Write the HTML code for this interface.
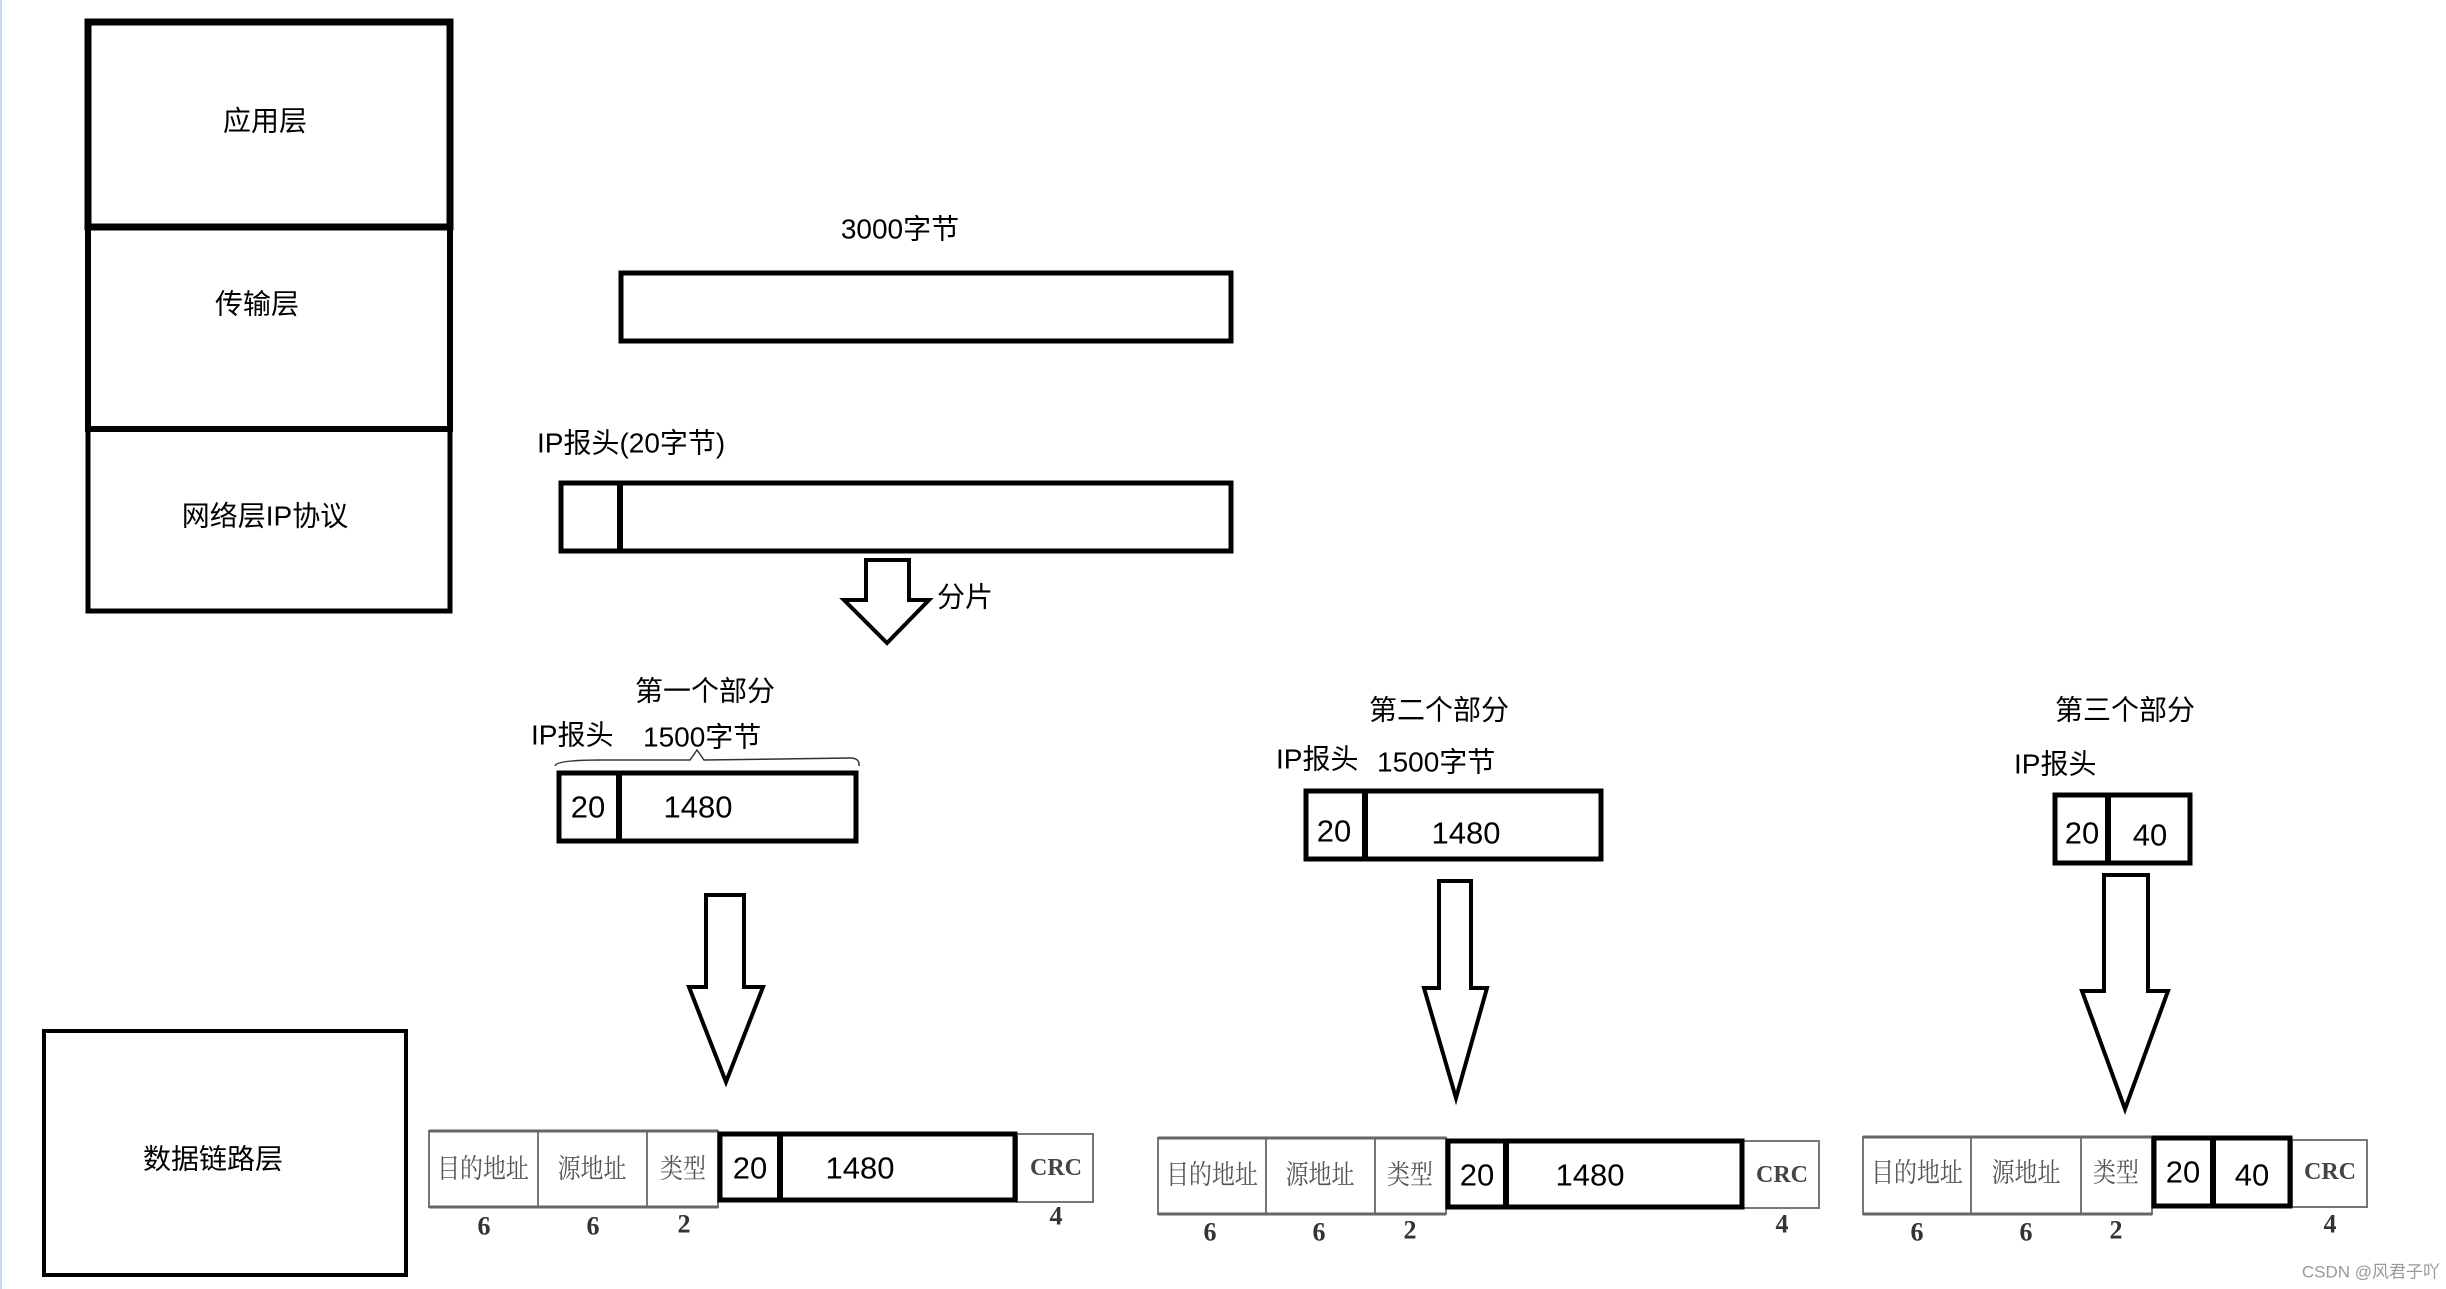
<!DOCTYPE html>
<html><head><meta charset="utf-8"><style>
html,body{margin:0;padding:0;background:#fff;}
body{width:2446px;height:1289px;overflow:hidden;position:relative;}
svg{position:absolute;left:0;top:0;}
.t{font-family:"Liberation Sans","Noto Sans CJK SC",sans-serif;font-size:28px;fill:#000;}
.n{font-family:"Liberation Sans","Noto Sans CJK SC",sans-serif;font-size:31px;fill:#000;}
.g{font-family:"Liberation Serif","Noto Serif CJK SC",serif;font-size:27px;fill:#555;}
.d{font-family:"Liberation Serif",serif;font-size:26px;font-weight:bold;fill:#333;}
.c{font-family:"Liberation Serif",serif;font-size:24px;font-weight:bold;fill:#444;}
</style></head><body>
<svg width="2446" height="1289" viewBox="0 0 2446 1289" xmlns="http://www.w3.org/2000/svg">
<rect x="0" y="0" width="2" height="1289" fill="#c9d9ef"/>
<!-- layer stack -->
<g fill="none" stroke="#000">
<rect x="88" y="22" width="362" height="205" stroke-width="7"/>
<rect x="88" y="227" width="362" height="202" stroke-width="6"/>
<rect x="88" y="429" width="362" height="182" stroke-width="5"/>
<rect x="44" y="1031" width="362" height="244" stroke-width="4"/>
</g>
<text class="t" x="265" y="121" text-anchor="middle" dominant-baseline="central">应用层</text>
<text class="t" x="257" y="304" text-anchor="middle" dominant-baseline="central">传输层</text>
<text class="t" x="265" y="516" text-anchor="middle" dominant-baseline="central">网络层IP协议</text>
<text class="t" x="213" y="1159" text-anchor="middle" dominant-baseline="central">数据链路层</text>

<!-- top bars -->
<text class="t" x="900" y="229" text-anchor="middle" dominant-baseline="central">3000字节</text>
<rect x="621" y="273" width="610" height="68" fill="none" stroke="#000" stroke-width="5"/>
<text class="t" x="537" y="443" dominant-baseline="central">IP报头(20字节)</text>
<rect x="561" y="483" width="670" height="68" fill="none" stroke="#000" stroke-width="5"/>
<line x1="620" y1="483" x2="620" y2="551" stroke="#000" stroke-width="6"/>
<polygon points="866,560 909,560 909,600 929,600 887,643 844,600 866,600" fill="#fff" stroke="#000" stroke-width="4"/>
<text class="t" x="937" y="597" dominant-baseline="central">分片</text>

<!-- part 1 -->
<text class="t" x="705" y="691" text-anchor="middle" dominant-baseline="central">第一个部分</text>
<text class="t" x="531" y="735" dominant-baseline="central">IP报头</text>
<text class="t" x="643" y="737" dominant-baseline="central">1500字节</text>
<path d="M555,766 Q556,760 600,760 L690,760 L697,750 L704,760 L850,758 Q860,758 859,766" fill="none" stroke="#333" stroke-width="1.5"/>
<rect x="559" y="773" width="297" height="68" fill="none" stroke="#000" stroke-width="5"/>
<line x1="619" y1="773" x2="619" y2="841" stroke="#000" stroke-width="6"/>
<text class="n" x="588" y="807" text-anchor="middle" dominant-baseline="central">20</text>
<text class="n" x="698" y="807" text-anchor="middle" dominant-baseline="central">1480</text>
<polygon points="706,895 744,895 744,987 763,987 726,1082 689,987 706,987" fill="#fff" stroke="#000" stroke-width="4"/>

<!-- part 2 -->
<text class="t" x="1439" y="710" text-anchor="middle" dominant-baseline="central">第二个部分</text>
<text class="t" x="1276" y="759" dominant-baseline="central">IP报头</text>
<text class="t" x="1377" y="762" dominant-baseline="central">1500字节</text>
<rect x="1306" y="791" width="295" height="68" fill="none" stroke="#000" stroke-width="5"/>
<line x1="1365" y1="791" x2="1365" y2="859" stroke="#000" stroke-width="6"/>
<text class="n" x="1334" y="831" text-anchor="middle" dominant-baseline="central">20</text>
<text class="n" x="1466" y="833" text-anchor="middle" dominant-baseline="central">1480</text>
<polygon points="1439,881 1471,881 1471,988 1487,988 1456,1098 1424,988 1439,988" fill="#fff" stroke="#000" stroke-width="4"/>

<!-- part 3 -->
<text class="t" x="2125" y="710" text-anchor="middle" dominant-baseline="central">第三个部分</text>
<text class="t" x="2014" y="764" dominant-baseline="central">IP报头</text>
<rect x="2055" y="795" width="135" height="68" fill="none" stroke="#000" stroke-width="5"/>
<line x1="2108" y1="795" x2="2108" y2="863" stroke="#000" stroke-width="6"/>
<text class="n" x="2082" y="833" text-anchor="middle" dominant-baseline="central">20</text>
<text class="n" x="2150" y="835" text-anchor="middle" dominant-baseline="central">40</text>
<polygon points="2104,875 2148,875 2148,991 2168,991 2125,1109 2082,991 2104,991" fill="#fff" stroke="#000" stroke-width="4"/>

<!-- frame 1 -->
<g fill="none" stroke="#777" stroke-width="2">
<rect x="429" y="1131" width="289" height="76"/>
<line x1="538" y1="1131" x2="538" y2="1207"/><line x1="647" y1="1131" x2="647" y2="1207"/>
<rect x="1017" y="1134" width="76" height="68"/>
</g>
<line x1="429" y1="1131" x2="718" y2="1131" stroke="#666" stroke-width="3"/>
<line x1="429" y1="1207" x2="718" y2="1207" stroke="#666" stroke-width="3"/>
<g class="g" text-anchor="middle" dominant-baseline="central">
<text x="483" y="1170" transform="translate(483 0) scale(0.85 1) translate(-483 0)">目的地址</text>
<text x="592" y="1170" transform="translate(592 0) scale(0.85 1) translate(-592 0)">源地址</text>
<text x="683" y="1170" transform="translate(683 0) scale(0.85 1) translate(-683 0)">类型</text>
</g>
<rect x="720" y="1134" width="295" height="66" fill="none" stroke="#000" stroke-width="5"/>
<line x1="780" y1="1134" x2="780" y2="1200" stroke="#000" stroke-width="6"/>
<text class="n" x="750" y="1168" text-anchor="middle" dominant-baseline="central">20</text>
<text class="n" x="860" y="1168" text-anchor="middle" dominant-baseline="central">1480</text>
<text class="c" x="1056" y="1168" text-anchor="middle" dominant-baseline="central">CRC</text>
<g class="d" text-anchor="middle" dominant-baseline="central">
<text x="484" y="1226">6</text><text x="593" y="1226">6</text><text x="684" y="1224">2</text><text x="1056" y="1216">4</text>
</g>

<!-- frame 2 -->
<g fill="none" stroke="#777" stroke-width="2">
<rect x="1158" y="1138" width="288" height="76"/>
<line x1="1266" y1="1138" x2="1266" y2="1214"/><line x1="1375" y1="1138" x2="1375" y2="1214"/>
<rect x="1743" y="1141" width="76" height="67"/>
</g>
<line x1="1158" y1="1138" x2="1446" y2="1138" stroke="#666" stroke-width="3"/>
<line x1="1158" y1="1214" x2="1446" y2="1214" stroke="#666" stroke-width="3"/>
<g class="g" text-anchor="middle" dominant-baseline="central">
<text x="1212" y="1176" transform="translate(1212 0) scale(0.85 1) translate(-1212 0)">目的地址</text>
<text x="1320" y="1176" transform="translate(1320 0) scale(0.85 1) translate(-1320 0)">源地址</text>
<text x="1410" y="1176" transform="translate(1410 0) scale(0.85 1) translate(-1410 0)">类型</text>
</g>
<rect x="1448" y="1141" width="294" height="66" fill="none" stroke="#000" stroke-width="5"/>
<line x1="1506" y1="1141" x2="1506" y2="1207" stroke="#000" stroke-width="6"/>
<text class="n" x="1477" y="1175" text-anchor="middle" dominant-baseline="central">20</text>
<text class="n" x="1590" y="1175" text-anchor="middle" dominant-baseline="central">1480</text>
<text class="c" x="1782" y="1175" text-anchor="middle" dominant-baseline="central">CRC</text>
<g class="d" text-anchor="middle" dominant-baseline="central">
<text x="1210" y="1232">6</text><text x="1319" y="1232">6</text><text x="1410" y="1230">2</text><text x="1782" y="1224">4</text>
</g>

<!-- frame 3 -->
<g fill="none" stroke="#777" stroke-width="2">
<rect x="1863" y="1137" width="289" height="77"/>
<line x1="1971" y1="1137" x2="1971" y2="1214"/><line x1="2081" y1="1137" x2="2081" y2="1214"/>
<rect x="2292" y="1140" width="75" height="67"/>
</g>
<line x1="1863" y1="1137" x2="2152" y2="1137" stroke="#666" stroke-width="3"/>
<line x1="1863" y1="1214" x2="2152" y2="1214" stroke="#666" stroke-width="3"/>
<g class="g" text-anchor="middle" dominant-baseline="central">
<text x="1917" y="1174" transform="translate(1917 0) scale(0.85 1) translate(-1917 0)">目的地址</text>
<text x="2026" y="1174" transform="translate(2026 0) scale(0.85 1) translate(-2026 0)">源地址</text>
<text x="2116" y="1174" transform="translate(2116 0) scale(0.85 1) translate(-2116 0)">类型</text>
</g>
<rect x="2154" y="1138" width="136" height="68" fill="none" stroke="#000" stroke-width="5"/>
<line x1="2213" y1="1138" x2="2213" y2="1206" stroke="#000" stroke-width="6"/>
<text class="n" x="2183" y="1172" text-anchor="middle" dominant-baseline="central">20</text>
<text class="n" x="2252" y="1175" text-anchor="middle" dominant-baseline="central">40</text>
<text class="c" x="2330" y="1172" text-anchor="middle" dominant-baseline="central">CRC</text>
<g class="d" text-anchor="middle" dominant-baseline="central">
<text x="1917" y="1232">6</text><text x="2026" y="1232">6</text><text x="2116" y="1230">2</text><text x="2330" y="1224">4</text>
</g>

<text x="2440" y="1272" text-anchor="end" dominant-baseline="central" style="font-family:'Liberation Sans','Noto Sans CJK SC',sans-serif;font-size:17px;fill:#999;">CSDN @风君子吖</text>
</svg>
</body></html>
